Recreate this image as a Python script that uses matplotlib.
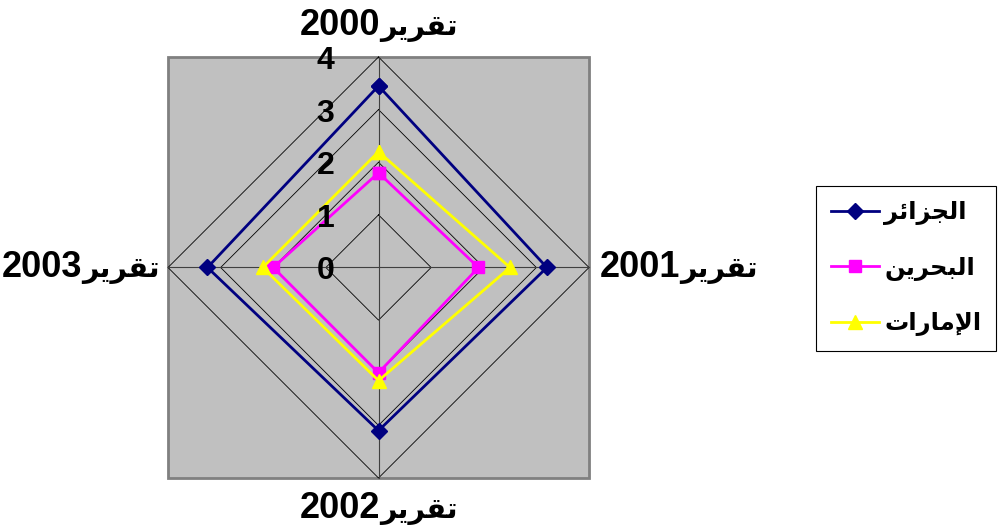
import numpy as np
import matplotlib
matplotlib.use("Agg")
import matplotlib.pyplot as plt
from matplotlib.patches import Rectangle
from matplotlib.offsetbox import TextArea, HPacker, AnnotationBbox

# ---------------- data ----------------
categories = ['تقرير2000', 'تقرير2001', 'تقرير2002', 'تقرير2003']
series_names = ['الجزائر', 'البحرين', 'الإمارات']
algeria = [3.45, 3.2, 3.1, 3.25]
bahrain = [1.8, 1.9, 2.0, 2.0]
uae = [2.2, 2.5, 2.15, 2.2]
r_ticks = [0, 1, 2, 3, 4]

# ---------------- minimal Arabic shaping (presentation forms + visual order) ----------------
FORMS = {  # iso, fin, ini, med
    '\u0627': ('\uFE8D', '\uFE8E', None, None),
    '\u0625': ('\uFE87', '\uFE88', None, None),
    '\u0623': ('\uFE83', '\uFE84', None, None),
    '\u0628': ('\uFE8F', '\uFE90', '\uFE91', '\uFE92'),
    '\u062A': ('\uFE95', '\uFE96', '\uFE97', '\uFE98'),
    '\u062C': ('\uFE9D', '\uFE9E', '\uFE9F', '\uFEA0'),
    '\u062D': ('\uFEA1', '\uFEA2', '\uFEA3', '\uFEA4'),
    '\u0631': ('\uFEAD', '\uFEAE', None, None),
    '\u0632': ('\uFEAF', '\uFEB0', None, None),
    '\u0642': ('\uFED5', '\uFED6', '\uFED7', '\uFED8'),
    '\u0644': ('\uFEDD', '\uFEDE', '\uFEDF', '\uFEE0'),
    '\u0645': ('\uFEE1', '\uFEE2', '\uFEE3', '\uFEE4'),
    '\u0646': ('\uFEE5', '\uFEE6', '\uFEE7', '\uFEE8'),
    '\u064A': ('\uFEF1', '\uFEF2', '\uFEF3', '\uFEF4'),
    '\u0626': ('\uFE89', '\uFE8A', '\uFE8B', '\uFE8C'),
}
LAM_ALEF = {'\u0627': ('\uFEFB', '\uFEFC', None, None),
            '\u0625': ('\uFEF9', '\uFEFA', None, None),
            '\u0623': ('\uFEF7', '\uFEF8', None, None)}


def is_ar(c):
    return '\u0600' <= c <= '\u06FF'


def shape_run(s):
    toks = []
    i = 0
    while i < len(s):
        c = s[i]
        if c == '\u0644' and i + 1 < len(s) and s[i + 1] in LAM_ALEF:
            toks.append(LAM_ALEF[s[i + 1]])
            i += 2
        else:
            toks.append(FORMS.get(c, (c, c, None, None)))
            i += 1
    out = []
    for k, f in enumerate(toks):
        prev_join = k > 0 and toks[k - 1][2] is not None
        next_join = f[2] is not None and k + 1 < len(toks)
        if prev_join and next_join:
            out.append(f[3])
        elif prev_join:
            out.append(f[1])
        elif next_join:
            out.append(f[2])
        else:
            out.append(f[0])
    return ''.join(reversed(out))


def runs_visual(s):
    """Split into (text, is_arabic) runs in visual left-to-right order."""
    runs, cur, cur_ar = [], '', None
    for c in s:
        a = is_ar(c)
        if cur and a != cur_ar:
            runs.append((cur, cur_ar))
            cur = ''
        cur += c
        cur_ar = a
    if cur:
        runs.append((cur, cur_ar))
    return [(shape_run(t) if a else t, a) for t, a in reversed(runs)]


def ar(s):
    return ''.join(t for t, _ in runs_visual(s))


# ---------------- plot ----------------
plt.rcParams['font.family'] = ['Liberation Sans', 'DejaVu Sans']
plt.rcParams['font.weight'] = 'bold'

W, H = 1000, 529
fig = plt.figure(figsize=(W / 100, H / 100), dpi=100)
fig.patch.set_facecolor('white')
ax = fig.add_axes([168 / W, (H - 478) / H, 421 / W, 421 / H], projection='polar')
ax.set_theta_zero_location('N')
ax.set_theta_direction(-1)
ax.set_rlim(0, 4)
ax.grid(False)
ax.set_xticks([])
ax.set_yticks([])
ax.spines['polar'].set_visible(False)
ax.patch.set_visible(False)

ax.add_patch(Rectangle((0, 0), 1, 1, transform=ax.transAxes, facecolor='#C0C0C0',
                       edgecolor='#808080', lw=2, zorder=-5, clip_on=False))

n = len(categories)
angles = [2 * np.pi * k / n for k in range(n)]
closed = angles + angles[:1]

# diamond grid
for r in r_ticks[1:]:
    ax.plot(closed, [r] * (n + 1), color='black', lw=0.6, zorder=1, clip_on=False)
# spokes
for a in angles:
    ax.plot([a, a], [0, 4], color='#404040', lw=0.8, zorder=1, clip_on=False)

styles = [
    (algeria, '#000080', 'D', 8),
    (bahrain, '#FF00FF', 's', 9),
    (uae, '#FFFF00', '^', 10),
]
for (vals, col, mk, ms), name in zip(styles, series_names):
    ax.plot(closed, list(vals) + [vals[0]], color=col, lw=2, marker=mk, ms=ms,
            markeredgecolor=col, markerfacecolor=col, label=ar(name), zorder=3, clip_on=False)

# radial tick labels
for r in r_ticks:
    ax.annotate(str(r), xy=(0, r), xytext=(-53 * 0.72, -4 * 0.72), textcoords='offset points',
                ha='center', va='center', fontsize=23, fontweight='bold', zorder=4,
                annotation_clip=False)

# category labels (digits in Arial-like bold, Arabic part in fallback font)
lab_pos = [(4.60, (0.5, 0.5)), (4.2, (0.0, 0.5)),
           (4.58, (0.5, 0.5)), (4.15, (1.0, 0.5))]
for a, lab, (rr, align) in zip(angles, categories, lab_pos):
    parts = []
    for t, is_arabic in runs_visual(lab):
        if is_arabic:
            parts.append(TextArea(t, textprops=dict(fontsize=20.5, fontweight='bold',
                                                    family=['DejaVu Sans'])))
        else:
            parts.append(TextArea(t, textprops=dict(fontsize=26, fontweight='bold',
                                                    family=['Liberation Sans'])))
    box = HPacker(children=parts, align='baseline', pad=0, sep=0)
    ab = AnnotationBbox(box, (a, rr), xycoords='data', box_alignment=align,
                        frameon=False, pad=0, annotation_clip=False)
    ax.add_artist(ab)

leg = ax.legend(loc='center', bbox_to_anchor=(0.906, 0.492), bbox_transform=fig.transFigure,
                prop={'size': 17.5, 'weight': 'bold'}, frameon=True, fancybox=False,
                edgecolor='black', framealpha=1, borderpad=0.62, labelspacing=1.3,
                handlelength=2.0, handletextpad=0.2, borderaxespad=0)
leg.get_frame().set_linewidth(0.8)

fig.savefig('out.png', dpi=100, facecolor='white')
